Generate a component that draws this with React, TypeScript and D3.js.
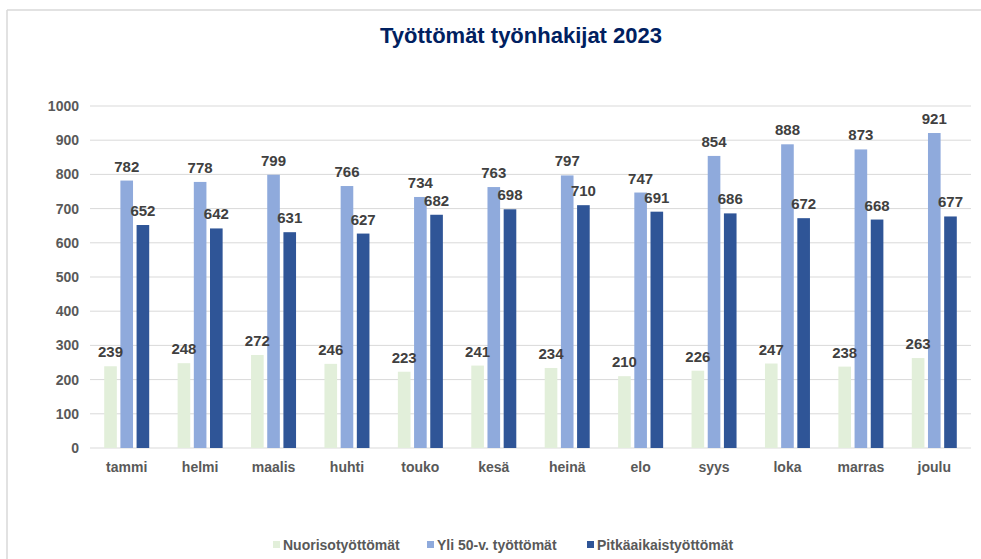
import React from "react";
import * as d3 from "d3";

const months = ["tammi", "helmi", "maalis", "huhti", "touko", "kesä", "heinä", "elo", "syys", "loka", "marras", "joulu"];
const seriesNames = ["Nuorisotyöttömät", "Yli 50-v. työttömät", "Pitkäaikaistyöttömät"];
const youth = [239, 248, 272, 246, 223, 241, 234, 210, 226, 247, 238, 263];
const over50 = [782, 778, 799, 766, 734, 763, 797, 747, 854, 888, 873, 921];
const longTerm = [652, 642, 631, 627, 682, 698, 710, 691, 686, 672, 668, 677];
const yTicks = [0, 100, 200, 300, 400, 500, 600, 700, 800, 900, 1000];
const colors = ["#e2efda", "#8faadc", "#2f5597"];
const title = "Työttömät työnhakijat 2023";

const W = 981;
const H = 559;
const plot = { left: 90, right: 971, top: 106, bottom: 448 };
const FONT = "'Liberation Sans', Arial, sans-serif";

export default function App() {
  const series = [youth, over50, longTerm];
  const x0 = d3.scaleBand<string>().domain(months).range([plot.left, plot.right]).paddingInner(0.387).paddingOuter(0.1935);
  const x1 = d3.scaleBand<number>().domain([0, 1, 2]).range([0, x0.bandwidth()]).paddingInner(0.22);
  const y = d3.scaleLinear().domain([0, 1000]).range([plot.bottom, plot.top]);

  const legendX = [273, 427, 587];

  return (
    <svg width={W} height={H} style={{ position: "fixed", left: 0, top: 0, background: "#fff" }} fontFamily={FONT}>
      <rect x={0} y={0} width={W} height={H} fill="#fff" />
      <line x1={7} x2={W} y1={10} y2={10} stroke="#d9d9d9" strokeWidth={1.5} />
      <line x1={7} x2={7} y1={10} y2={H} stroke="#d9d9d9" strokeWidth={1.5} />
      <text x={521} y={43} textAnchor="middle" fontSize={22} fontWeight="bold" fill="#002060">{title}</text>
      {yTicks.map((t) => (
        <g key={t}>
          <line x1={plot.left} x2={plot.right} y1={y(t)} y2={y(t)} stroke="#d9d9d9" strokeWidth={1} />
          <text x={79} y={y(t)} dy="0.35em" textAnchor="end" fontSize={14} fontWeight="bold" fill="#595959">{t}</text>
        </g>
      ))}
      {months.map((m, i) => (
        <g key={m} transform={`translate(${x0(m)},0)`}>
          {series.map((s, k) => (
            <rect key={k} x={x1(k)} y={y(s[i])} width={x1.bandwidth()} height={y(0) - y(s[i])} fill={colors[k]} />
          ))}
          {series.map((s, k) => (
            <text key={"l" + k} x={(x1(k) as number) + x1.bandwidth() / 2} y={y(s[i]) - 9} textAnchor="middle" fontSize={15} fontWeight="bold" fill="#404040">{s[i]}</text>
          ))}
          <text x={x0.bandwidth() / 2} y={472} textAnchor="middle" fontSize={14} fontWeight="bold" fill="#595959">{m}</text>
        </g>
      ))}
      {seriesNames.map((n, k) => (
        <g key={n}>
          <rect x={legendX[k]} y={541} width={7} height={7} fill={colors[k]} />
          <text x={legendX[k] + 10} y={545} dy="0.35em" fontSize={14} fontWeight="bold" fill="#595959">{n}</text>
        </g>
      ))}
    </svg>
  );
}
